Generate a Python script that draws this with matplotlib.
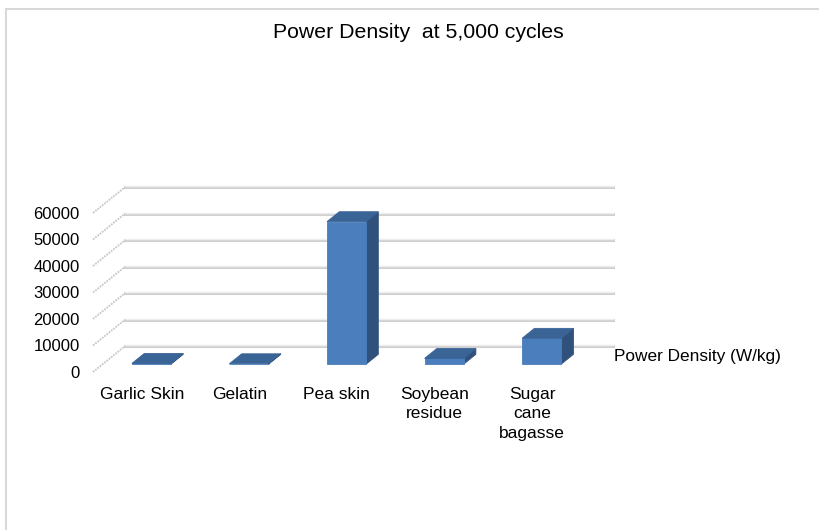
import numpy as np
import matplotlib
matplotlib.use('Agg')
import matplotlib.pyplot as plt
from matplotlib.patches import Rectangle

plt.rcParams['font.family'] = ['Liberation Sans', 'DejaVu Sans']

# Power density values (W/kg) after 5,000 cycles
materials = ['Garlic Skin', 'Gelatin', 'Pea skin', 'Soybean\nresidue', 'Sugar\ncane\nbagasse']
power_density = [300, 200, 53800, 2200, 9800]
y_ticks = [0, 10000, 20000, 30000, 40000, 50000, 60000]
series_name = 'Power Density (W/kg)'

# fake 3D: depth shift of the back wall in data units
DX = 0.33
DY = 9800
bar_w = 0.40
d_front, d_back = 0.30, 0.68


def proj(x, y, d):
    return x + d * DX, y + d * DY


fig = plt.figure(figsize=(8.19, 5.30), dpi=100)
ax = fig.add_axes([93 / 819, 1 - 372 / 530, 520 / 819, (372 - 187) / 530])
ax.set_xlim(-0.5, len(materials) - 0.5 + DX)
ax.set_ylim(0, y_ticks[-1] + DY)
for s in ax.spines.values():
    s.set_visible(False)

# back wall gridlines and side wall lines
for v in y_ticks:
    x0, y0 = proj(-0.5, v, 1)
    x1, y1 = proj(len(materials) - 0.5, v, 1)
    ax.plot([x0, x1], [y0, y1], color='#d0d0d0', lw=2.2, clip_on=False, zorder=1)
    ax.plot([x0, x1], [y0 + 250, y1 + 250], color='#efefef', lw=1, clip_on=False, zorder=1)
    sx0, sy0 = proj(-0.5, v, 0)
    ax.plot([sx0, x0], [sy0, y0], color='#c8c8c8', lw=1.3, ls=(0, (1, 0.6)),
            clip_on=False, zorder=1)

# 3D-looking bars
for i, v in enumerate(power_density):
    xl, xr = i - bar_w / 2, i + bar_w / 2
    front = [proj(xl, 0, d_front), proj(xr, 0, d_front), proj(xr, v, d_front), proj(xl, v, d_front)]
    side = [proj(xr, 0, d_front), proj(xr, 0, d_back), proj(xr, v, d_back), proj(xr, v, d_front)]
    top = [proj(xl, v, d_front), proj(xr, v, d_front), proj(xr, v, d_back), proj(xl, v, d_back)]
    for poly, col in [(side, '#30517c'), (front, '#4b7ebc'), (top, '#3a6396')]:
        px, py = zip(*poly)
        ax.fill(px, py, color=col, lw=0.6, ec=col, clip_on=False, zorder=3)

ax.set_yticks(y_ticks)
ax.set_yticklabels([str(t) for t in y_ticks], fontsize=12)
ax.set_xticks(range(len(materials)))
ax.set_xticklabels(materials, fontsize=12.5, linespacing=1.4)
ax.tick_params(axis='y', length=0, pad=9.5)
ax.tick_params(axis='x', length=0, pad=10.5)

fig.text(614 / 819, 1 - 357 / 530, series_name, fontsize=12.4, va='center', ha='left')
fig.text(418 / 819, 1 - 33 / 530, 'Power Density  at 5,000 cycles', fontsize=15.3,
         ha='center', va='center')

# chart area border
fig.patches.append(Rectangle((6 / 819, -0.05), 1.1, 1 - 9 / 530 + 0.05, transform=fig.transFigure,
                             fill=False, ec='#d9d9d9', lw=1.5))

fig.savefig('out.png', dpi=100)
